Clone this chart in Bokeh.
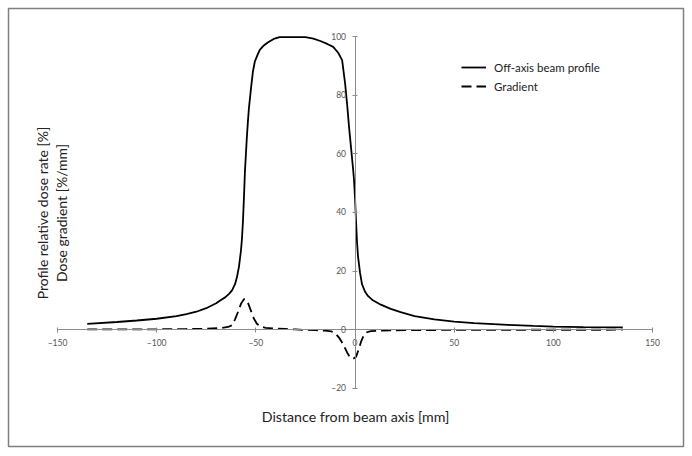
from bokeh.plotting import figure
from bokeh.models import Range1d, LinearAxis, FixedTicker, Label, Legend, LegendItem
from bokeh.embed import file_html
from bokeh.resources import INLINE

# ---- data ----
profile_x = [-135, -120, -110, -100, -90, -85, -80, -75, -70, -67.8, -65.5, -63.5, -62, -60.5,
             -59.5, -58.5, -57.5, -57, -56.5, -56, -55.5, -55, -54.5, -54, -53.5, -52.5, -51.5,
             -50.5, -49, -48, -46, -44, -41, -38, -25, -21, -17.5, -14, -11, -8.5, -6.5, -5,
             -4, -3, -2, -1, -0.5, 0, 0.5, 1, 1.5, 2.5, 3.5, 5, 6.5, 9, 13, 18, 23, 30, 40, 50,
             60, 77, 90, 100, 115, 135]
profile_y = [1.95, 2.6, 3.1, 3.7, 4.6, 5.3, 6.1, 7.3, 9.0, 10.0, 11.0, 12.2, 13.4, 15.5,
             18, 21.5, 27, 31, 37, 45, 54, 60, 66, 71, 75.5, 82, 88,
             91.5, 94, 95.5, 97, 98, 99.2, 99.8, 99.8, 99.3, 98.5, 97.5, 96.5, 94.5, 92, 84,
             77, 69, 62, 55, 51, 45, 37, 30, 25, 19.5, 15.5, 13, 11.5, 10, 8.5, 7.1, 6, 4.6, 3.5, 2.7,
             2.2, 1.6, 1.25, 1.0, 0.85, 0.75]

gradient_x = [-135, -120, -100, -85, -75, -68, -64, -62, -60.5, -59, -57.5, -56, -55, -54, -52.5,
              -51, -49.5, -47.5, -45, -40, -35, -30, -25, -20, -15, -12, -10, -8, -6, -4, -2.5,
              -1, 0.5, 2, 3, 4.5, 6, 8, 12, 20, 35, 60, 100, 135]
gradient_y = [0.05, 0.08, 0.12, 0.2, 0.3, 0.5, 0.9, 1.5, 3.5, 6, 8.8, 10.4, 10.3, 9.2, 6.5,
              3.8, 2.0, 1.0, 0.6, 0.35, 0.2, 0.05, -0.1, -0.2, -0.35, -0.6, -1.2, -2.8, -5.0, -7.8, -9.5,
              -10.0, -9.3, -6.5, -4.2, -1.8, -0.9, -0.5, -0.35, -0.25, -0.15, -0.08, -0.05, -0.04]

x_ticks = [-150, -100, -50, 0, 50, 100, 150]
y_ticks = [-20, 0, 20, 40, 60, 80, 100]

series_names = ["Off-axis beam profile", "Gradient"]
x_title = "Distance from beam axis [mm]"
y_title_1 = "Profile relative dose rate [%]"
y_title_2 = "Dose gradient [%/mm]"

FONT = "Lato"

p = figure(width=692, height=456, x_range=Range1d(-174.7, 165.6), y_range=Range1d(-39.9, 109.6),
           output_backend="svg", toolbar_location=None,
           min_border_left=8, min_border_top=8, min_border_right=9, min_border_bottom=10,
           x_axis_type=None, y_axis_type=None)
p.grid.visible = False
p.outline_line_color = "#7f7f7f"
p.outline_line_width = 1.5
p.background_fill_color = "white"
p.border_fill_color = "white"

def style_axis(ax, ticks):
    ax.ticker = FixedTicker(ticks=ticks)
    ax.bounds = (min(ticks), max(ticks))
    ax.major_label_overrides = {t: (str(t).replace("-", "\u2013")) for t in ticks}
    ax.axis_line_color = "#8c8c8c"
    ax.axis_line_width = 1
    ax.major_tick_line_color = "#8c8c8c"
    ax.major_tick_in = 2
    ax.major_tick_out = 3
    ax.minor_tick_line_color = None
    ax.major_label_text_font = FONT
    ax.major_label_text_font_size = "8.5px"
    ax.major_label_text_color = "#555555"

xaxis = LinearAxis(fixed_location=0)
style_axis(xaxis, x_ticks)
xaxis.major_label_standoff = 5
p.add_layout(xaxis, "below")

yaxis = LinearAxis(fixed_location=0)
style_axis(yaxis, y_ticks)
yaxis.major_label_standoff = 6
p.add_layout(yaxis, "left")

r1 = p.line(profile_x, profile_y, line_color="black", line_width=1.8)
r2 = p.line(gradient_x, gradient_y, line_color="black", line_width=1.8, line_dash="10 5")

legend = Legend(items=[LegendItem(label=series_names[0], renderers=[r1]),
                       LegendItem(label=series_names[1], renderers=[r2])],
                location=(453, 352), orientation="vertical",
                background_fill_alpha=0, border_line_color=None,
                padding=0, margin=0, spacing=3, glyph_width=25, glyph_height=16,
                label_height=16, label_standoff=8,
                label_text_font=FONT, label_text_font_size="11.5px", label_text_color="#222222")
p.add_layout(legend, "center")

p.add_layout(Label(x=347, y=30, x_units="screen", y_units="screen", text=x_title,
                   text_align="center", text_baseline="middle", text_font=FONT,
                   text_font_size="14.2px", text_color="#222222"))
p.add_layout(Label(x=34, y=233.5, x_units="screen", y_units="screen", text=y_title_1, angle=90,
                   angle_units="deg", text_align="center", text_baseline="middle",
                   text_font=FONT, text_font_size="14px", text_color="#222222"))
p.add_layout(Label(x=53, y=233.5, x_units="screen", y_units="screen", text=y_title_2, angle=90,
                   angle_units="deg", text_align="center", text_baseline="middle",
                   text_font=FONT, text_font_size="14px", text_color="#222222"))

open("out.html", "w").write(file_html(p, INLINE))
